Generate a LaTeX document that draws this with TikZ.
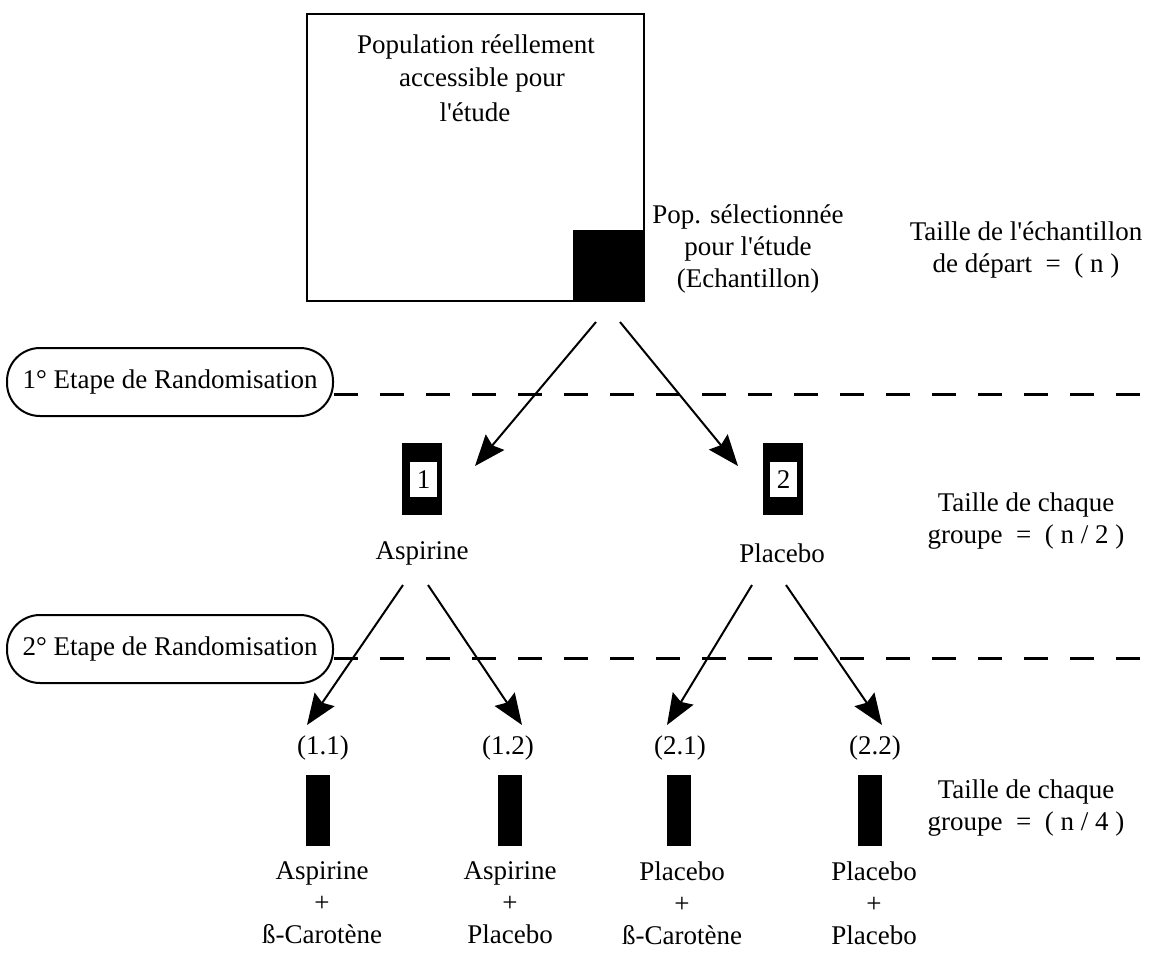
\documentclass[tikz,border=0pt]{standalone}
\usepackage{fontspec}
\setmainfont{Liberation Serif}[Ligatures=TeXOff]
\usetikzlibrary{arrows.meta}
\begin{document}
\begin{tikzpicture}[x=1pt,y=-1pt,
  txt/.style={font=\fontsize{27}{32}\selectfont, align=center, inner sep=0pt},
  frame/.style={draw, line width=2pt, inner sep=0pt},
  arr/.style={-{Stealth[length=31pt,width=24pt,inset=4pt]}, line width=2pt},
  sep/.style={line width=3pt, dash pattern=on 24pt off 22pt},
  bar/.style={fill=black, inner sep=0pt, minimum width=24pt, minimum height=71pt},
  grp/.style={fill=black, inner sep=0pt, minimum width=40pt, minimum height=72pt},
  grpn/.style={fill=white, txt, minimum width=27pt, minimum height=35pt},
  rbox/.style={frame, rounded corners=33pt, minimum width=326pt, minimum height=68pt, txt}]
\useasboundingbox (0,0) rectangle (1157,954);
% top population box
\node[frame, minimum width=337pt, minimum height=287pt, anchor=north west] (pop) at (306,13) {};
\node[fill=black, inner sep=0pt, minimum size=72pt, anchor=south east] (ech) at (pop.south east) {};
\node[txt] (p1) at (476,47) {Population réellement};
\node[txt] (p2) at (482,80) {accessible pour};
\node[txt] (p3) at (475,112) {l'étude};
\node[txt] (sel) at (748,249) {Pop. sélectionnée\\pour l'étude\\(Echantillon)};
\node[txt] (t0) at (1026,250) {Taille de l'échantillon\\de départ~~=~~( n )};
% randomisation 1
\node[rbox] (r1) at (170,382) {1° Etape de Randomisation};
\coordinate (d1) at (1157,394);
\draw[sep] (r1.east |- d1) -- (d1);
\coordinate (s1) at (596,322);
\coordinate (s2) at (620,322);
\coordinate (a1) at (475,466);
\coordinate (a2) at (738,466);
\draw[arr] (s1) -- (a1);
\draw[arr] (s2) -- (a2);
% groups 1 and 2
\node[grp] (g1) at (422,479) {};
\node[grpn] (g1n) at (423.5,479.5) {1};
\node[grp] (g2) at (782.5,479) {};
\node[grpn] (g2n) at (783.5,479.5) {2};
\node[txt] (asp) at (422,553) {Aspirine};
\node[txt] (pla) at (782,553) {Placebo};
\node[txt] (t2) at (1026,521) {Taille de chaque\\groupe~~=~~( n / 2 )};
% randomisation 2
\node[rbox] (r2) at (170,649) {2° Etape de Randomisation};
\coordinate (d2) at (1157,658);
\draw[sep] (r2.east |- d2) -- (d2);
\coordinate (s11) at (403,585);
\coordinate (s12) at (428,585);
\coordinate (s21) at (752,585);
\coordinate (s22) at (786,585);
\coordinate (e11) at (307,725);
\coordinate (e12) at (522,725);
\coordinate (e21) at (667,725);
\coordinate (e22) at (882,725);
\draw[arr] (s11) -- (e11);
\draw[arr] (s12) -- (e12);
\draw[arr] (s21) -- (e21);
\draw[arr] (s22) -- (e22);
% sub-groups
\node[txt] (l11) at (323,748) {(1.1)};
\node[txt] (l12) at (508,748) {(1.2)};
\node[txt] (l21) at (680,748) {(2.1)};
\node[txt] (l22) at (875,748) {(2.2)};
\node[bar] (b11) at (318,810) {};
\node[bar] (b12) at (510,810) {};
\node[bar] (b21) at (679,810) {};
\node[bar] (b22) at (870,810) {};
\node[txt] (c11) at (322,903) {Aspirine\\+\\ß-Carotène};
\node[txt] (c12) at (510,903) {Aspirine\\+\\Placebo};
\node[txt] (c21) at (682,903) {Placebo\\+\\ß-Carotène};
\node[txt] (c22) at (874,903) {Placebo\\+\\Placebo};
\node[txt] (t4) at (1026,808) {Taille de chaque\\groupe~~=~~( n / 4 )};
\end{tikzpicture}
\end{document}
